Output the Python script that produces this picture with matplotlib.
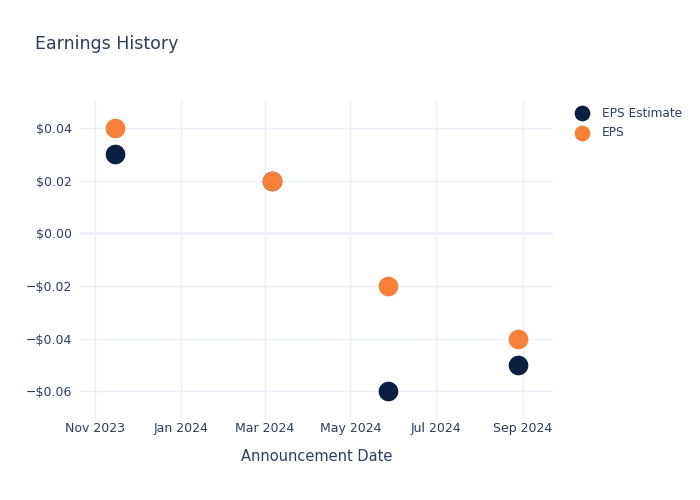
import matplotlib
matplotlib.use("Agg")
import matplotlib.pyplot as plt
import numpy as np
from datetime import datetime

dates = ["2023-11-15", "2024-03-06", "2024-05-28", "2024-08-29"]
eps_estimate = [0.03, 0.02, -0.06, -0.05]
eps_actual = [0.04, 0.02, -0.02, -0.04]
tick_dates = ["2023-11-01", "2024-01-01", "2024-03-01", "2024-05-01", "2024-07-01", "2024-09-01"]
tick_labels = ["Nov 2023", "Jan 2024", "Mar 2024", "May 2024", "Jul 2024", "Sep 2024"]
y_ticks = [0.04, 0.02, 0.0, -0.02, -0.04, -0.06]

navy = "#0b1f42"
orange = "#f7803a"
text_color = "#2a3f5f"
grid_color = "#ebf0f8"

x = [datetime.fromisoformat(d) for d in dates]

fig = plt.figure(figsize=(7, 5), dpi=100)
ax = fig.add_axes([80/700, 1-419/500, (553-80)/700, (419-100)/500])

ax.scatter(x, eps_estimate, s=200, color=navy, zorder=3, label="EPS Estimate", linewidths=0)
ax.scatter(x, eps_actual, s=200, color=orange, zorder=4, label="EPS", linewidths=0)

ax.set_xlim(datetime(2023, 10, 21), datetime(2024, 9, 22, 18))
ax.set_ylim(-0.0705, 0.0507)

ax.set_xticks([datetime.fromisoformat(d) for d in tick_dates])
ax.set_xticklabels(tick_labels)
ax.set_yticks(y_ticks)
ax.set_yticklabels([("\u2212" if v < 0 else "") + "$%.2f" % abs(v) for v in y_ticks])

ax.grid(True, color=grid_color, linewidth=1, zorder=0)
ax.axhline(0, color=grid_color, linewidth=2, zorder=1)
for s in ax.spines.values():
    s.set_visible(False)
ax.tick_params(length=0, labelsize=9, colors=text_color, pad=6)
ax.tick_params(axis="x", pad=2.5)

ax.set_xlabel("Announcement Date", fontsize=10.5, color=text_color, labelpad=10)
fig.text(35/700, 1-44/500, "Earnings History", fontsize=12.5, color=text_color, va="center", ha="left")

leg = ax.legend(loc="upper left", bbox_to_anchor=(1.0137, 1.0135), frameon=False,
                fontsize=8.7, labelcolor=text_color, handletextpad=0.6,
                labelspacing=0.55, markerscale=0.8)

fig.savefig("out.png", dpi=100)
